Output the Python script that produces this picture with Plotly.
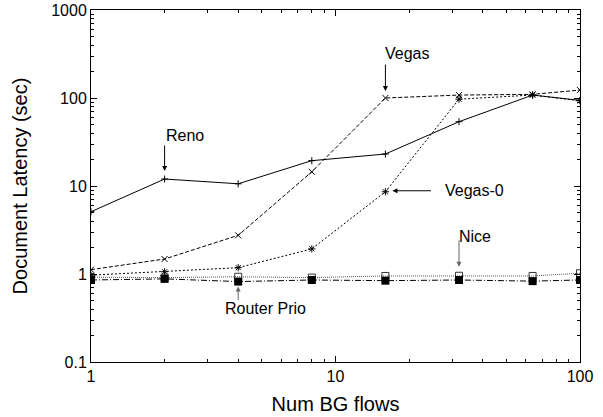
import math
import plotly.graph_objects as go

# ---- data ----
flows = [1, 2, 4, 8, 16, 32, 64, 100]
reno = [5.1, 12.0, 10.6, 19.4, 23.1, 53.8, 108, 94]
vegas = [1.12, 1.48, 2.75, 14.5, 100, 108, 110, 123]
vegas0 = [0.97, 1.06, 1.18, 1.93, 8.6, 97, 108, 93]
nice = [0.92, 0.91, 0.93, 0.91, 0.95, 0.955, 0.95, 1.02]
router_prio = [0.855, 0.88, 0.82, 0.855, 0.84, 0.855, 0.83, 0.855]

x_ticks = [1, 10, 100]
x_tick_labels = ["1", "10", "100"]
y_ticks = [0.1, 1, 10, 100, 1000]
y_tick_labels = ["0.1", "1", "10", "100", "1000"]

FONT = "Liberation Sans, Arial, Helvetica, sans-serif"

fig = go.Figure()

def add(y, name, dash, color, symbol, msize, mline_w, mcolor, mfill=None):
    fig.add_trace(go.Scatter(
        x=flows, y=y, name=name, mode="lines+markers",
        line=dict(color=color, width=1, dash=dash),
        marker=dict(symbol=symbol, size=msize,
                    color=mfill if mfill is not None else mcolor,
                    line=dict(color=mcolor, width=mline_w)),
        showlegend=False,
    ))

add(nice, "Nice", "1px,1px", "#555555", "square-open", 7, 1, "#333333")
add(router_prio, "Router Prio", "6px,2px,1px,2px", "black", "square", 8, 0, "black")
add(vegas0, "Vegas-0", "2px,2px", "black", "asterisk-open", 6, 1, "black")
add(vegas, "Vegas", "4px,2px", "black", "x-thin-open", 6, 1, "black")
add(reno, "Reno", "solid", "black", "cross-thin-open", 5, 1, "black")

minor_x = [m * d for d in [1, 10] for m in range(2, 10)]
minor_y = [m * d for d in [0.1, 1, 10, 100] for m in range(2, 10)]

axis_common = dict(
    type="log", showgrid=False, zeroline=False, showline=True,
    linecolor="black", linewidth=1, mirror="ticks", automargin=False,
    ticks="inside", ticklen=6, tickwidth=1, tickcolor="black",
    tickfont=dict(family=FONT, size=16, color="black"),
)

fig.update_xaxes(
    **axis_common, range=[0, 2], tickmode="array",
    tickvals=x_ticks, ticktext=x_tick_labels,
    minor=dict(tickmode="array", tickvals=minor_x, ticks="inside",
               ticklen=3, tickcolor="black", tickwidth=1),
    title=dict(text="Num BG flows", font=dict(family=FONT, size=20, color="black"),
               standoff=12),
)
fig.update_yaxes(
    **axis_common, range=[-1, 3], tickmode="array",
    tickvals=y_ticks, ticktext=y_tick_labels,
    minor=dict(tickmode="array", tickvals=minor_y, ticks="inside",
               ticklen=3, tickcolor="black", tickwidth=1),
    title=dict(text="Document Latency (sec)", font=dict(family=FONT, size=20, color="black"),
               standoff=18),
)

L = math.log10
AF = dict(family=FONT, size=16, color="black")

def label(text, xv, yv, xs, ys):
    fig.add_annotation(x=L(xv), y=L(yv), xref="x", yref="y", text=text,
                       showarrow=False, xanchor="left", yanchor="middle",
                       xshift=xs, yshift=ys, font=AF)

def arrow(xv, yv, xs, ys, ax, ay, color="black"):
    fig.add_annotation(x=L(xv), y=L(yv), xref="x", yref="y", text="",
                       showarrow=True, arrowhead=2, arrowsize=1, arrowwidth=1,
                       arrowcolor=color, ax=ax, ay=ay, xshift=xs, yshift=ys)

# Reno
label("Reno", flows[1], reno[1], -1, 44)
arrow(flows[1], reno[1], 0, 8, 0, -27)
# Vegas
label("Vegas", flows[4], vegas[4], -2, 45)
arrow(flows[4], vegas[4], 0, 7, 0, -28)
# Vegas-0
label("Vegas-0", flows[4], vegas0[4], 58, 1)
arrow(flows[4], vegas0[4], 7, 1, 40, 0)
# Nice
label("Nice", flows[5], nice[5], -2, 39)
arrow(flows[5], nice[5], 0, 9, 0, -28, color="#666666")
# Router Prio
label("Router Prio", flows[2], router_prio[2], -15, -27)
arrow(flows[2], router_prio[2], 0, -5, 0, 15, color="#666666")

fig.update_layout(
    width=603, height=417,
    margin=dict(l=91, r=23, t=10, b=55),
    paper_bgcolor="white", plot_bgcolor="white",
    font=dict(family=FONT, color="black"),
)

fig.write_html("out.html")
